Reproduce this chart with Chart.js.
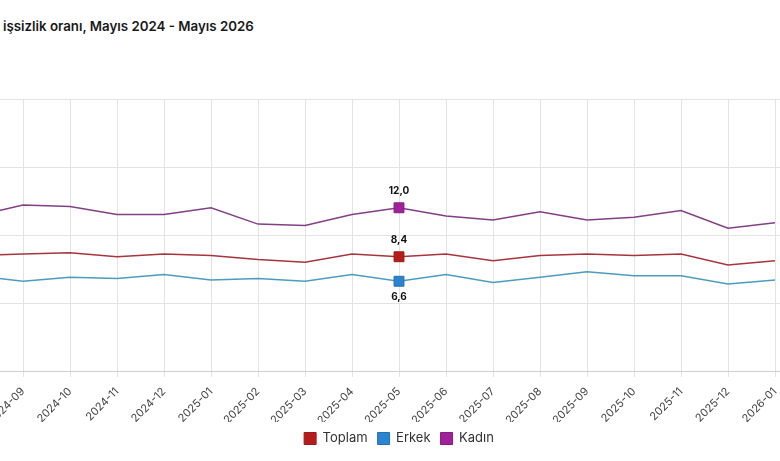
<!DOCTYPE html>
<html>
<head>
<meta charset="utf-8">
<script src="https://cdn.jsdelivr.net/npm/chart.js@4"></script>
<style>
  html, body { margin: 0; padding: 0; background: #ffffff; overflow: hidden; width: 780px; height: 461px; }
  #title { position: absolute; left: 3px; top: 18px; font-family: Inter, "Noto Sans", sans-serif; font-weight: 600; font-size: 13.3px; color: #1a1a1a; white-space: nowrap; line-height: 16px; }
  #wrap { position: absolute; left: -225px; top: 0px; width: 1248px; height: 461px; }
</style>
</head>
<body>
<div id="title">işsizlik oranı, Mayıs 2024 - Mayıs 2026</div>
<div id="wrap"><canvas id="c"></canvas></div>
<script>
const months = ["2024-05","2024-06","2024-07","2024-08","2024-09","2024-10","2024-11","2024-12",
  "2025-01","2025-02","2025-03","2025-04","2025-05","2025-06","2025-07","2025-08","2025-09",
  "2025-10","2025-11","2025-12","2026-01","2026-02","2026-03","2026-04","2026-05"];
const toplam = [null,null,null,8.5,8.6,8.7,8.4,8.6,8.5,8.2,8.0,8.6,8.4,8.6,8.1,8.5,8.6,8.5,8.6,7.8,8.1,null,null,null,null];
const erkek  = [null,null,null,7.0,6.6,6.9,6.8,7.1,6.7,6.8,6.6,7.1,6.6,7.1,6.5,6.9,7.3,7.0,7.0,6.4,6.7,null,null,null,null];
const kadin  = [null,null,null,11.4,12.2,12.1,11.5,11.5,12.0,10.8,10.7,11.5,12.0,11.4,11.1,11.7,11.1,11.3,11.8,10.5,10.9,null,null,null,null];
const yTicks = [0,5,10,15,20];
const highlightMonth = "2025-05";

const hi = months.indexOf(highlightMonth);
function radii() { return months.map((m, i) => i === hi ? 7 : 0); }

const valueLabels = {
  id: 'valueLabels',
  afterDatasetsDraw(chart) {
    const ctx = chart.ctx;
    ctx.save();
    ctx.font = 'bold 10px Inter, "Noto Sans", sans-serif';
    ctx.fillStyle = '#111';
    ctx.textAlign = 'center';
    ctx.textBaseline = 'middle';
    chart.data.datasets.forEach((ds, di) => {
      const meta = chart.getDatasetMeta(di);
      const pt = meta.data[hi];
      const v = ds.data[hi];
      if (!pt || v == null) return;
      const txt = v.toFixed(1).replace('.', ',');
      const dy = ds.labelBelow ? 16 : -17;
      ctx.fillText(txt, pt.x, pt.y + dy);
    });
    ctx.restore();
  }
};

new Chart(document.getElementById('c'), {
  type: 'line',
  data: {
    labels: months,
    datasets: [
      { label: 'Toplam', data: toplam, borderColor: '#a8353d', backgroundColor: '#b71c1c',
        pointBackgroundColor: '#b71c1c', pointBorderColor: '#9c1a1a', pointBorderWidth: 1,
        borderWidth: 1.5, pointStyle: 'rect', pointRadius: radii(), pointHoverRadius: radii(), tension: 0 },
      { label: 'Erkek', data: erkek, borderColor: '#4a9dc0', backgroundColor: '#2b84d0', labelBelow: true,
        pointBackgroundColor: '#2b84d0', pointBorderColor: '#2570b0', pointBorderWidth: 1,
        borderWidth: 1.5, pointStyle: 'rect', pointRadius: radii(), pointHoverRadius: radii(), tension: 0 },
      { label: 'Kadın', data: kadin, borderColor: '#823f86', backgroundColor: '#a0229a',
        pointBackgroundColor: '#a0229a', pointBorderColor: '#861c82', pointBorderWidth: 1,
        borderWidth: 1.5, pointStyle: 'rect', pointRadius: radii(), pointHoverRadius: radii(), tension: 0 }
    ]
  },
  options: {
    responsive: true,
    maintainAspectRatio: false,
    animation: false,
    spanGaps: false,
    layout: { padding: { top: 99, left: 20, right: 60, bottom: 6 } },
    plugins: {
      title: { display: false },
      tooltip: { enabled: false },
      legend: {
        position: 'bottom',
        fullSize: false,
        labels: {
          boxWidth: 12, boxHeight: 12, padding: 10,
          color: '#333',
          font: { family: 'Inter, "Noto Sans", sans-serif', size: 13 },
          generateLabels(chart) {
            return chart.data.datasets.map((ds, i) => ({
              text: ds.label, fillStyle: ds.backgroundColor, strokeStyle: ds.pointBorderColor,
              lineWidth: 1, hidden: false, datasetIndex: i, fontColor: '#333'
            }));
          }
        }
      }
    },
    scales: {
      x: {
        offset: false,
        afterFit(scale) { scale.height = 51; },
        grid: { color: '#e3e3e3', tickLength: 6, drawTicks: true },
        border: { color: '#cfcfcf' },
        ticks: { autoSkip: false, maxRotation: 45, minRotation: 45, padding: 8,
          color: '#444', font: { family: 'Inter, "Noto Sans", sans-serif', size: 11 } }
      },
      y: {
        min: 0, max: 20,
        afterFit(scale) { scale.width = 40; },
        afterBuildTicks(scale) { scale.ticks = yTicks.map(v => ({ value: v })); },
        grid: { color: '#e3e3e3', drawTicks: false },
        border: { display: false },
        ticks: { color: '#444', padding: 6, font: { family: 'Inter, "Noto Sans", sans-serif', size: 11 } }
      }
    }
  },
  plugins: [valueLabels]
});
</script>
</body>
</html>
